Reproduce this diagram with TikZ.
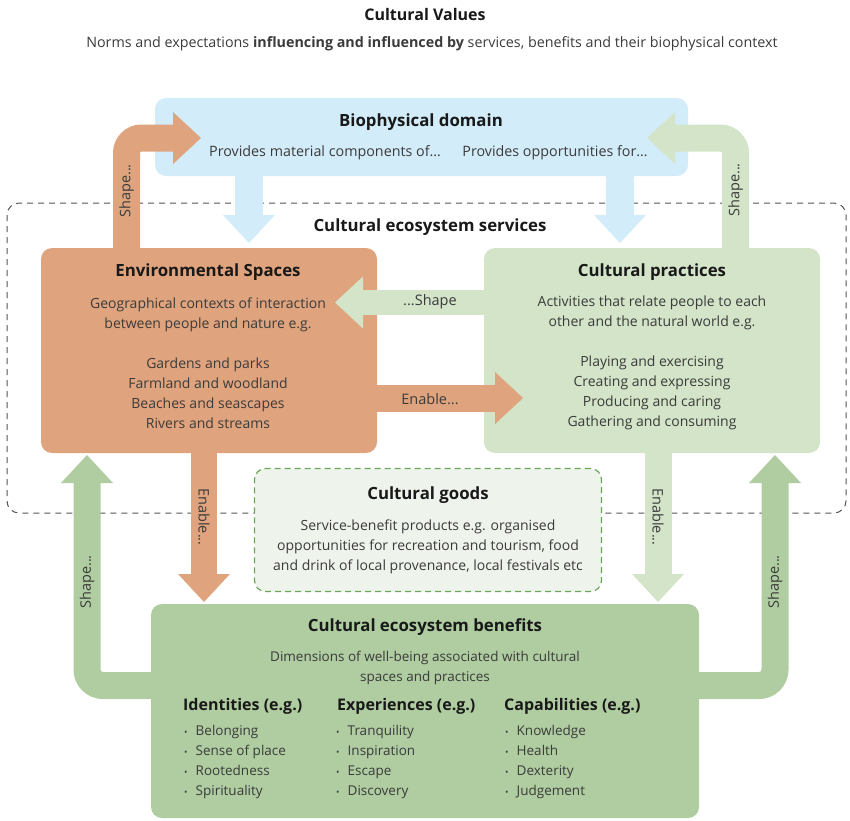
\documentclass[tikz,border=0pt]{standalone}
\usepackage{fontspec}
\setmainfont{Open Sans}
\usetikzlibrary{arrows.meta,calc}
\definecolor{envc}{HTML}{DFA47E}
\definecolor{pracc}{HTML}{D3E4C8}
\definecolor{benc}{HTML}{AFCDA0}
\definecolor{bioc}{HTML}{D3ECF9}
\definecolor{goodsc}{HTML}{EEF3EB}
\definecolor{goodsb}{HTML}{6AA75A}
\definecolor{txtc}{HTML}{3B3B3B}
\definecolor{dashc}{HTML}{555555}
\begin{document}
\begin{tikzpicture}[x=1pt,y=-1pt,
  box/.style={rounded corners=11pt, inner sep=0pt, outer sep=0pt},
  fatarrow/.style={line width=27pt, -{Triangle[width=52pt,length=28pt,line width=0pt]}},
  ttl/.style={font=\fontsize{16.8}{20}\selectfont\bfseries, text=black!90, inner sep=0pt},
  body/.style={font=\fontsize{14}{20}\selectfont, text=txtc, align=center, inner sep=0pt},
  lbl/.style={font=\fontsize{14.3}{16}\selectfont, text=txtc, inner sep=0pt},
  albl/.style={font=\fontsize{14.5}{16}\selectfont, text=txtc, inner sep=0pt},
  hdr/.style={font=\fontsize{16}{20}\selectfont\bfseries, text=black!90, inner sep=0pt, anchor=west},
  lst/.style={font=\fontsize{13.5}{20}\selectfont, text=txtc, align=left, inner sep=0pt, anchor=west}
]
\useasboundingbox (0,0) rectangle (850,820);
% title
\node[ttl, font=\fontsize{16}{20}\selectfont\bfseries] (title) at (425,14) {Cultural Values};
\node[lbl] (subtitle) at (432,44) {Norms and expectations \textbf{influencing and influenced by} services, benefits and their biophysical context};
% dashed services region
\draw[dashc, line width=1pt, dash pattern=on 6pt off 5pt, rounded corners=12pt] (7,203) rectangle (846,513);
% boxes
\node[box, fill=bioc, minimum width=533pt, minimum height=78pt] (bio) at (421.5,137) {};
\node[box, fill=envc, minimum width=336pt, minimum height=205pt] (env) at (209,350.5) {};
\node[box, fill=pracc, minimum width=336pt, minimum height=205pt] (prac) at (652,350.5) {};
\node[box, fill=goodsc, draw=goodsb, dash pattern=on 6pt off 4pt, line width=1.2pt, minimum width=347pt, minimum height=123pt] (goods) at (428,530) {};
\node[box, fill=benc, minimum width=548pt, minimum height=214pt] (ben) at (425,711) {};
% helper coordinates
\coordinate (xb1) at (249,0);
\coordinate (xb2) at (620,0);
\coordinate (xol) at (126.5,0);
\coordinate (xgr) at (735.5,0);
\coordinate (otip) at (201,138);
\coordinate (gtip) at (647,138);
\coordinate (yshape) at (0,302.5);
\coordinate (yenable) at (0,398);
\coordinate (stip) at (335,302.5);
\coordinate (etip) at (523,398);
\coordinate (xed1) at (204,0);
\coordinate (xed2) at (658,0);
\coordinate (xbl) at (87,0);
\coordinate (xbr) at (775,0);
\coordinate (ybot) at (0,685.5);
% arrows
\draw[fatarrow, bioc, line width=28pt, shorten >=5pt] (bio.south -| xb1) -- (env.north -| xb1);
\draw[fatarrow, bioc, line width=28pt, shorten >=5pt] (bio.south -| xb2) -- (prac.north -| xb2);
\draw[fatarrow, envc, rounded corners=15pt] (env.north -| xol) |- (otip);
\draw[fatarrow, pracc, rounded corners=15pt] (prac.north -| xgr) |- (gtip);
\draw[fatarrow, pracc, line width=25pt] (prac.west |- yshape) -- (stip);
\draw[fatarrow, envc] (env.east |- yenable) -- (etip);
\draw[fatarrow, envc, line width=26pt, shorten >=2pt] (env.south -| xed1) -- (ben.north -| xed1);
\draw[fatarrow, pracc, line width=27pt, shorten >=2pt] (prac.south -| xed2) -- (ben.north -| xed2);
\draw[fatarrow, benc, line width=27pt, rounded corners=16pt, shorten >=2pt] (ben.west |- ybot) -| (env.south -| xbl);
\draw[fatarrow, benc, line width=27pt, rounded corners=16pt, shorten >=2pt] (ben.east |- ybot) -| (prac.south -| xbr);
% arrow labels
\node[albl, rotate=90] (l1) at (126.5,191) {Shape...};
\node[albl, rotate=90] (l2) at (735.5,190) {Shape...};
\node[albl] (l3) at (430,302) {...Shape};
\node[albl] (l4) at (430,399) {Enable...};
\node[albl, rotate=-90] (l5) at (204,517) {Enable...};
\node[albl, rotate=-90] (l6) at (658,517) {Enable...};
\node[albl, rotate=90] (l7) at (87,582) {Shape...};
\node[albl, rotate=90] (l8) at (775,582) {Shape...};
% biophysical text
\node[ttl] (biot) at (421,122) {Biophysical domain};
\node[lbl] (biop1) at (325,153) {Provides material components of…};
\node[lbl] (biop2) at (555,153) {Provides opportunities for…};
% services
\node[ttl] (cest) at (430,227) {Cultural ecosystem services};
% environmental spaces
\node[ttl] (envt) at (208,272) {Environmental Spaces};
\node[body] (envb) at (208,363) {Geographical contexts of interaction\\between people and nature e.g.\\[20pt]Gardens and parks\\Farmland and woodland\\Beaches and seascapes\\Rivers and streams};
% cultural practices
\node[ttl] (pract) at (652,272) {Cultural practices};
\node[body] (pracb) at (652,363) {Activities that relate people to each\\other and the natural world e.g.\\[20pt]Playing and exercising\\Creating and expressing\\Producing and caring\\Gathering and consuming};
% cultural goods
\node[ttl] (goodst) at (428,495) {Cultural goods};
\node[body] (goodsb1) at (428,547) {Service-benefit products e.g. organised\\opportunities for recreation and tourism, food\\and drink of local provenance, local festivals etc};
% benefits
\node[ttl] (bent) at (425,627) {Cultural ecosystem benefits};
\node[body, font=\fontsize{13.5}{20}\selectfont] (benb) at (425,668) {Dimensions of well-being associated with cultural\\spaces and practices};
\node[hdr] (h1) at (183,706) {Identities (e.g.)};
\node[hdr] (h2) at (337,706) {Experiences (e.g.)};
\node[hdr] (h3) at (504,706) {Capabilities (e.g.)};
\newcommand{\bl}{\makebox[11.5pt][l]{\fontsize{9}{9}\selectfont•}}
\node[lst] (c1) at (184,762) {\bl Belonging\\\bl Sense of place\\\bl Rootedness\\\bl Spirituality};
\node[lst] (c2) at (336,762) {\bl Tranquility\\\bl Inspiration\\\bl Escape\\\bl Discovery};
\node[lst] (c3) at (505,762) {\bl Knowledge\\\bl Health\\\bl Dexterity\\\bl Judgement};
\end{tikzpicture}
\end{document}
